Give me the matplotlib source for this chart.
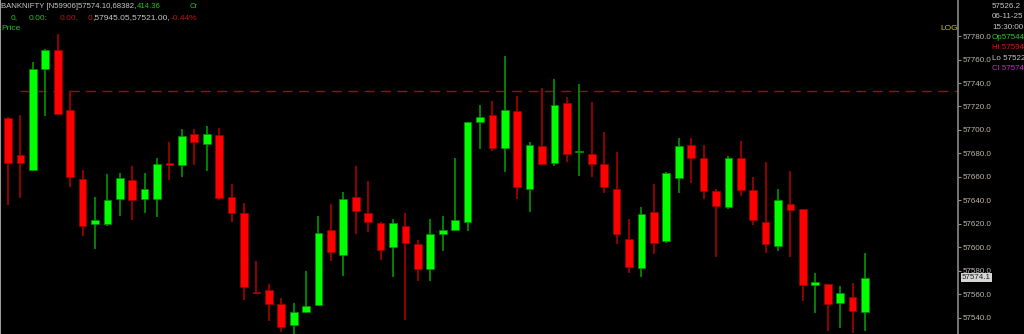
import matplotlib
matplotlib.use("Agg")
import matplotlib.pyplot as plt

# BANKNIFTY intraday candles
opens = [57710, 57679, 57666, 57752, 57768, 57717, 57658, 57620, 57620, 57641,
         57657, 57641, 57641, 57672, 57670, 57696.5, 57688, 57696, 57643, 57629,
         57562, 57564, 57552, 57534, 57545, 57551, 57615, 57593.5, 57643, 57629,
         57621, 57600.5, 57618, 57602.5, 57581.5, 57611, 57615, 57622, 57707, 57712.5,
         57684.5, 57716, 57650, 57686, 57672, 57723, 57681, 57679.5, 57671, 57650,
         57607, 57582, 57630, 57605, 57659, 57687, 57676, 57648, 57634, 57676,
         57648.5, 57622, 57601, 57637, 57632.5, 57568, 57569, 57552.5, 57558, 57545]
highs = [57711, 57713, 57758, 57769, 57782, 57733, 57666, 57643, 57662.5, 57663.5,
         57669.5, 57663, 57676, 57689.5, 57701, 57701, 57703.5, 57702, 57654, 57638,
         57588, 57569, 57557, 57553, 57580, 57627, 57637, 57647, 57669, 57656.5,
         57621.5, 57624, 57629, 57606.5, 57624, 57627, 57676, 57706.5, 57721, 57724.5,
         57763, 57729, 57689.5, 57736, 57743.5, 57728.5, 57739, 57723.5, 57698, 57681.5,
         57624, 57634, 57654, 57664, 57693, 57693, 57687.5, 57650, 57678, 57691,
         57660, 57673, 57650, 57665, 57633, 57578.5, 57569, 57567, 57569.5, 57595]
lows = [57636, 57642, 57665, 57712, 57714, 57651, 57610, 57599, 57618, 57627,
        57623, 57629, 57626, 57657, 57660, 57670, 57665, 57640, 57622, 57555,
        57560, 57537, 57528, 57524, 57544, 57550, 57588, 57576, 57611, 57613,
        57589, 57575, 57538, 57571.5, 57571, 57597, 57614, 57614, 57683.5, 57682,
        57664, 57641, 57630, 57671, 57669, 57673, 57661, 57660, 57646, 57603,
        57578, 57574.5, 57594, 57604, 57646.5, 57654.5, 57641, 57591.5, 57633, 57644,
        57619, 57595, 57597, 57592, 57554, 57544, 57529, 57531, 57527, 57528.5]
closes = [57672, 57672, 57752, 57768, 57714, 57660, 57618, 57623.5, 57640, 57659,
          57640, 57650, 57671, 57670, 57695, 57689.5, 57696.5, 57642, 57629, 57566,
          57561, 57552, 57532, 57545, 57550, 57612, 57596, 57641, 57631, 57621.5,
          57598, 57621, 57604, 57581.5, 57611, 57614.5, 57623.5, 57706.5, 57711, 57685,
          57717, 57651, 57687, 57671, 57721, 57679.5, 57681.5, 57671, 57651.5, 57611,
          57583, 57628.5, 57604, 57663, 57686, 57676.5, 57648, 57635, 57676, 57649,
          57623, 57602.5, 57640, 57632, 57568, 57570.5, 57552, 57561, 57546, 57574.1]

price_ticks = [57540, 57560, 57580, 57600, 57620, 57640, 57660, 57680,
               57700, 57720, 57740, 57760, 57780]
ref_level = 57733
last_close = closes[-1]

header_1 = [("BANKNIFTY [N59906]57574.10,68382,", "#c8c8c8", 1),
            ("414.36", "#22c022", 137), ("Cr", "#22c022", 190)]
header_2 = [("0,", "#22c022", 11), ("0.00:", "#22c022", 29), ("0.00,", "#c01010", 60),
            ("0", "#c01010", 88), (",57945.05,57521.00,", "#c8c8c8", 92),
            ("-0.44%", "#c01010", 171)]
# crosshair readout box at the right edge (only the visible part of it)
info_lines = [("57526.2", "#c8c8c8"), ("06-11-25", "#c8c8c8"), ("15:30:00", "#c8c8c8"),
              ("Op57544", "#22d022"), ("Hi 57594", "#e01010"),
              ("Lo 57522", "#c8c8c8"), ("Cl 57574", "#d020d0")]

W, H = 1024, 334
plt.rcParams["font.family"] = ["Liberation Sans", "DejaVu Sans"]
plt.rcParams["lines.scale_dashes"] = False

fig = plt.figure(figsize=(W / 100, H / 100), dpi=100, facecolor="black")
ax = fig.add_axes([0, 0, 958 / W, 1], facecolor="black")

n = len(opens)
xs = list(range(n))
for i in xs:
    o, h, l, c = opens[i], highs[i], lows[i], closes[i]
    up = c >= o
    body = "#00ff00" if up else "#ff0000"
    wick = "#008a00" if up else "#9c0000"
    ax.vlines(i, l, h, color=wick, linewidth=1.3, zorder=2)
    bottom = min(o, c)
    height = max(abs(c - o), 1.0)
    ax.bar(i, height, bottom=bottom, width=0.62, color=body,
           edgecolor=wick, linewidth=0.5, zorder=3)

# horizontal reference level
ax.axhline(ref_level, xmin=20 / 958, xmax=1, color="#b00000",
           linewidth=1.0, dashes=(7.2, 4.6), zorder=1)

ax.set_xlim(-8 / 12.42, (958 - 8) / 12.42)
ax.set_ylim(57526.2, 57810.7)
ax.set_xticks([])

ax.yaxis.tick_right()
ax.set_yticks(price_ticks)
ax.set_yticklabels([f"{v:.1f}" for v in price_ticks])
ax.tick_params(axis="y", colors="#909090", labelcolor="#c0b8aa", length=2.5,
               width=0.8, pad=1, labelsize=5.8, direction="out")

for side in ["top", "bottom"]:
    ax.spines[side].set_visible(False)
ax.spines["right"].set_color("#8a8a8a")
ax.spines["right"].set_linewidth(1.2)
ax.spines["left"].set_color("#9a9a9a")
ax.spines["left"].set_linewidth(1.5)

# last price marker on the scale
ax.text(1 + 4 / 958, last_close, f"{last_close:.1f}", transform=ax.get_yaxis_transform(),
        ha="left", va="center", fontsize=5.8, color="#202020", zorder=5,
        bbox=dict(boxstyle="square,pad=0.15", facecolor="#d6d6d6", edgecolor="none"))


def put(text, color, x, y, size=6.0):
    fig.text(x / W, 1 - y / H, text, color=color, fontsize=size, ha="left", va="center")


for text, color, x in header_1:
    put(text, color, x, 7, size=5.6)
for text, color, x in header_2:
    put(text, color, x, 18)
put("Price", "#22c022", 1, 29)
put("LOG", "#c8c800", 940, 29)

for k, (text, color) in enumerate(info_lines):
    put(text, color, 992, 6.5 + k * 10.3, size=5.8)

plt.savefig("out.png", dpi=100, facecolor="black")
